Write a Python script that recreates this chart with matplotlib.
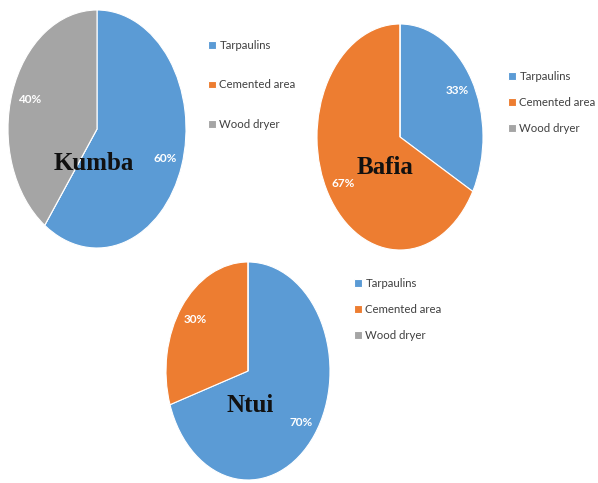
import matplotlib.pyplot as plt

categories = ['Tarpaulins', 'Cemented area', 'Wood dryer']
colors = ['#5B9BD5', '#ED7D31', '#A5A5A5']

kumba = [60, 0, 40]
bafia = [33, 67, 0]
ntui = [70, 30, 0]

W, H = 598, 483
fig = plt.figure(figsize=(W / 100, H / 100), dpi=100)
fig.patch.set_facecolor('white')

label_font = ['Lato', 'DejaVu Sans']


def pct_fmt(p):
    return '' if p < 0.5 else f'{p:.0f}%'


def draw_pie(values, name, cx, cy, rx, ry, name_xy, leg_xy, leg_gap):
    # axes box in pixel units, pie stretched to an ellipse
    ax = fig.add_axes([(cx - rx) / W, 1 - (cy + ry) / H, 2 * rx / W, 2 * ry / H])
    wedges, _, autotexts = ax.pie(values, colors=colors, startangle=90, counterclock=False,
                                  autopct=pct_fmt, pctdistance=0.8,
                                  wedgeprops=dict(edgecolor='white', linewidth=0.8),
                                  textprops=dict(color='white', fontsize=8.5, fontweight='bold',
                                                 family=label_font))
    ax.set_aspect('auto')
    ax.set_xlim(-1, 1)
    ax.set_ylim(-1, 1)
    ax.axis('off')
    fig.text(name_xy[0] / W, 1 - name_xy[1] / H, name, family='Liberation Serif',
             fontweight='bold', fontsize=18, ha='center', va='center', color='#111111')
    fig.legend(wedges, categories, loc='upper left',
               bbox_to_anchor=(leg_xy[0] / W, 1 - leg_xy[1] / H),
               frameon=False, borderpad=0, borderaxespad=0,
               handlelength=0.7, handleheight=0.7, handletextpad=0.3,
               labelspacing=leg_gap, prop=dict(family=label_font, size=8.2),
               labelcolor='#404040')


draw_pie(kumba, 'Kumba', 97, 129, 89, 119, (94, 163), (208, 40), 2.5)
draw_pie(bafia, 'Bafia', 400, 137, 83, 113, (385, 168), (508, 71), 1.3)
draw_pie(ntui, 'Ntui', 248, 371, 82, 109, (250, 405), (354, 278), 1.3)

fig.savefig('out.png', dpi=100, facecolor='white')
